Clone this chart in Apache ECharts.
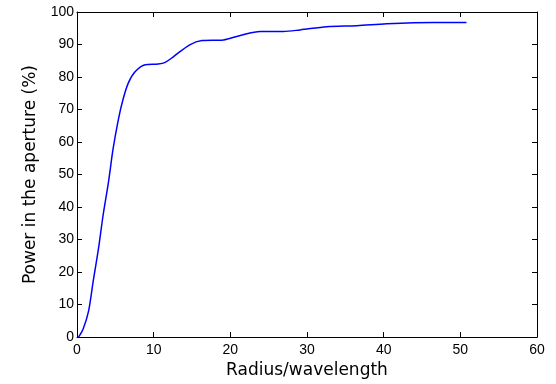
<!DOCTYPE html>
<html>
<head>
<meta charset="utf-8">
<script src="https://cdn.jsdelivr.net/npm/echarts@6/dist/echarts.min.js"></script>
<style>html,body{margin:0;padding:0;background:#fff;}#c{width:556px;height:384px;}</style>
</head>
<body>
<div id="c"></div>
<script>
const radius = [0.2,0.8,1.5,2.1,2.8,3.4,4.1,4.7,5.4,6.0,6.7,7.6,8.9,10.6,11.5,12.6,14.7,16.3,19.1,21.3,23.9,26.9,29.1,32.6,36.5,40.4,46.5,50.8];
const power = [0,2.5,7.9,17,27.2,37.4,47.6,57.8,67,73.1,78.2,81.7,83.8,84,84.5,86.3,89.9,91.2,91.4,92.8,94,94,94.5,95.5,95.8,96.4,96.8,96.8];
const xTicks = [0,10,20,30,40,50,60];
const yTicks = [0,10,20,30,40,50,60,70,80,90,100];

const NAMEFONT = '"DejaVu Sans", sans-serif';
const TICKFONT = '"Liberation Sans", Arial, sans-serif';
const data = radius.map((r,i)=>[r,power[i]]);
const axLine = {show:true, onZero:false, lineStyle:{color:'#000', width:1}};
const tick = {show:true, inside:true, length:5, lineStyle:{color:'#000', width:1}};
const chart = echarts.init(document.getElementById('c'));
chart.setOption({
  animation:false,
  grid:{left:77, right:19, top:12, bottom:45, containLabel:false},
  xAxis:[{
    type:'value', min:xTicks[0], max:xTicks[xTicks.length-1], interval:10, position:'bottom',
    name:'Radius/wavelength', nameLocation:'middle', nameGap:23,
    nameTextStyle:{fontFamily:NAMEFONT, fontSize:17, color:'#000'},
    axisLine:axLine, axisTick:tick, splitLine:{show:false},
    axisLabel:{fontFamily:TICKFONT, fontSize:14, color:'#000', margin:6}
  },{
    type:'value', min:xTicks[0], max:xTicks[xTicks.length-1], interval:10, position:'top',
    axisLine:axLine, axisTick:tick, splitLine:{show:false}, axisLabel:{show:false}
  }],
  yAxis:[{
    type:'value', min:yTicks[0], max:yTicks[yTicks.length-1], interval:10, position:'left',
    name:'Power in the aperture (%)', nameLocation:'middle', nameGap:38,
    nameTextStyle:{fontFamily:NAMEFONT, fontSize:17, color:'#000'},
    axisLine:axLine, axisTick:tick, splitLine:{show:false},
    axisLabel:{fontFamily:TICKFONT, fontSize:14, color:'#000', margin:3}
  },{
    type:'value', min:yTicks[0], max:yTicks[yTicks.length-1], interval:10, position:'right',
    axisLine:axLine, axisTick:tick, splitLine:{show:false}, axisLabel:{show:false}
  }],
  series:[{
    type:'line', data:data, xAxisIndex:0, yAxisIndex:0,
    showSymbol:false, smooth:0.3,
    lineStyle:{color:'#0000ff', width:1.5}
  }]
});
</script>
</body>
</html>
